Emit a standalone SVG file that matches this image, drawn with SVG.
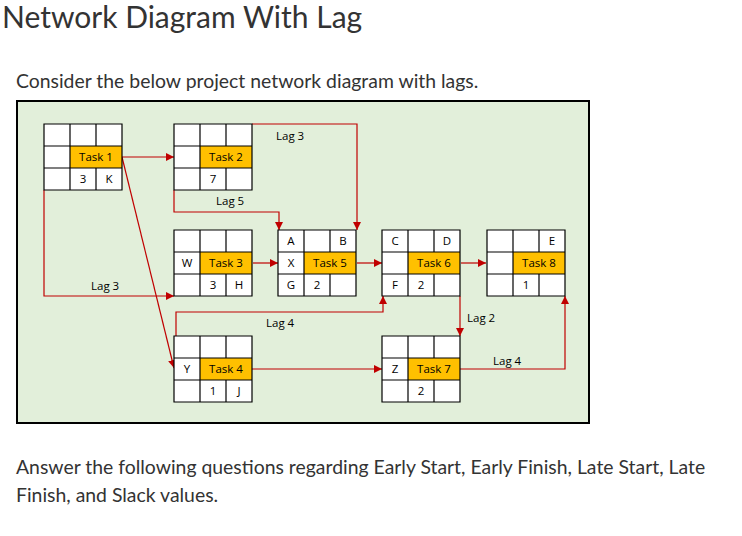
<svg xmlns="http://www.w3.org/2000/svg" width="742" height="536" viewBox="0 0 742 536">
<style>
.t{font-family:Lato,"Open Sans",sans-serif;fill:#333}
.c{fill:none;stroke:#000;stroke-width:1.2}
.o{fill:#ffc000}
.w{fill:#fff}
.l{font-family:"Open Sans","Liberation Sans",sans-serif;font-size:11.5px;fill:#000}
.m{text-anchor:middle}
.k{fill:none;stroke:#c00000;stroke-width:1.2}
</style>
<defs>
<marker id="a" viewBox="0 0 10 10" refX="10" refY="5" markerWidth="8" markerHeight="8" markerUnits="userSpaceOnUse" orient="auto"><path d="M0,0L10,5L0,10z" fill="#c00000"/></marker>
<g id="grid"><rect width="78" height="66" class="w"/><rect x="26" y="22" width="52" height="22" class="o"/><path class="c" d="M0,0h78v66h-78z M26,0v66 M52,0v22 M52,44v22 M0,22h78 M0,44h78"/></g>
</defs>
<rect width="742" height="536" fill="#fff"/>
<text class="t" x="2" y="28" font-size="30">Network Diagram With Lag</text>
<text class="t" x="16" y="88" font-size="19.4">Consider the below project network diagram with lags.</text>
<rect x="17" y="101" width="572" height="322" fill="#e2efda" stroke="#000" stroke-width="2"/>
<g id="connectors">
<path class="k" d="M122,157H174" marker-end="url(#a)"/>
<path class="k" d="M252,124H357V230" marker-end="url(#a)"/>
<path class="k" d="M174,190V212H279V230" marker-end="url(#a)"/>
<path class="k" d="M44,190V296H174" marker-end="url(#a)"/>
<path class="k" d="M122,157L174,368" marker-end="url(#a)"/>
<path class="k" d="M253,263H278" marker-end="url(#a)"/>
<path class="k" d="M357,263H382" marker-end="url(#a)"/>
<path class="k" d="M461,263H486" marker-end="url(#a)"/>
<path class="k" d="M176,336V312H383V296" marker-end="url(#a)"/>
<path class="k" d="M252,369H382" marker-end="url(#a)"/>
<path class="k" d="M460,296V336" marker-end="url(#a)"/>
<path class="k" d="M460,369H565V296" marker-end="url(#a)"/>
<text class="l" x="276" y="140">Lag 3</text>
<text class="l" x="216" y="205">Lag 5</text>
<text class="l" x="91" y="290">Lag 3</text>
<text class="l" x="266" y="327">Lag 4</text>
<text class="l" x="467" y="322">Lag 2</text>
<text class="l" x="493" y="365">Lag 4</text>
</g>
<g id="task1" transform="translate(44,124)"><use href="#grid"/><text class="l m" x="52" y="37">Task 1</text><text class="l m" x="39" y="59">3</text><text class="l m" x="65" y="59">K</text></g>
<g id="task2" transform="translate(174,124)"><use href="#grid"/><text class="l m" x="52" y="37">Task 2</text><text class="l m" x="39" y="59">7</text></g>
<g id="task3" transform="translate(174,230)"><use href="#grid"/><text class="l m" x="52" y="37">Task 3</text><text class="l m" x="13" y="37">W</text><text class="l m" x="39" y="59">3</text><text class="l m" x="65" y="59">H</text></g>
<g id="task5" transform="translate(278,230)"><use href="#grid"/><text class="l m" x="52" y="37">Task 5</text><text class="l m" x="13" y="15">A</text><text class="l m" x="65" y="15">B</text><text class="l m" x="13" y="37">X</text><text class="l m" x="13" y="59">G</text><text class="l m" x="39" y="59">2</text></g>
<g id="task6" transform="translate(382,230)"><use href="#grid"/><text class="l m" x="52" y="37">Task 6</text><text class="l m" x="13" y="15">C</text><text class="l m" x="65" y="15">D</text><text class="l m" x="13" y="59">F</text><text class="l m" x="39" y="59">2</text></g>
<g id="task8" transform="translate(487,230)"><use href="#grid"/><text class="l m" x="52" y="37">Task 8</text><text class="l m" x="65" y="15">E</text><text class="l m" x="39" y="59">1</text></g>
<g id="task4" transform="translate(174,336)"><use href="#grid"/><text class="l m" x="52" y="37">Task 4</text><text class="l m" x="13" y="37">Y</text><text class="l m" x="39" y="59">1</text><text class="l m" x="65" y="59">J</text></g>
<g id="task7" transform="translate(382,336)"><use href="#grid"/><text class="l m" x="52" y="37">Task 7</text><text class="l m" x="13" y="37">Z</text><text class="l m" x="39" y="59">2</text></g>
<text class="t" x="16" y="474" font-size="19.4">Answer the following questions regarding Early Start, Early Finish, Late Start, Late</text>
<text class="t" x="16" y="502" font-size="19.4">Finish, and Slack values.</text>
</svg>
